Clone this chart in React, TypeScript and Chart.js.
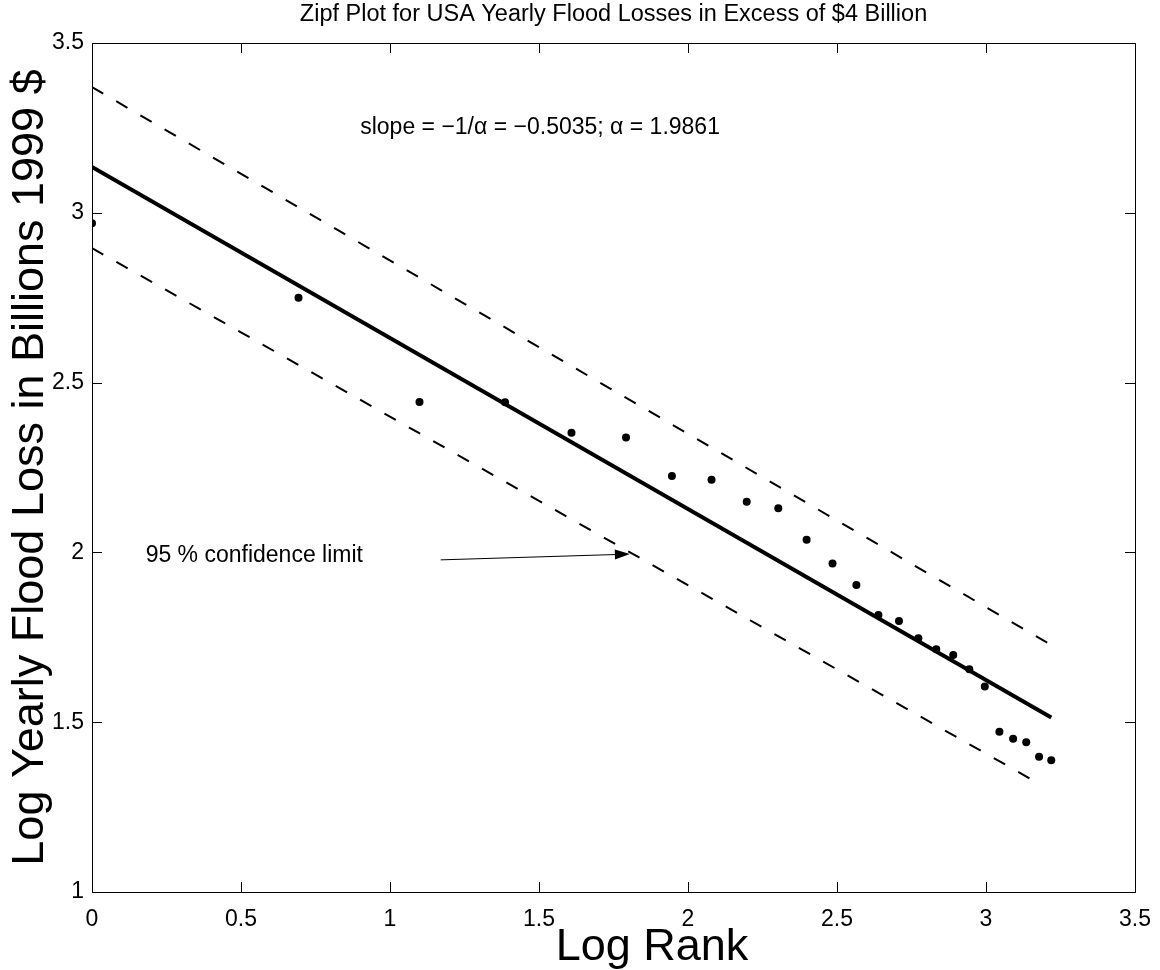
import React, { useEffect, useRef } from "react";
import { Chart, registerables } from "chart.js";

Chart.register(...registerables);

// ---- data ----
const logRank = [0, 0.693, 1.099, 1.386, 1.609, 1.792, 1.946, 2.079, 2.197, 2.303, 2.398, 2.485, 2.565, 2.639, 2.708, 2.773, 2.833, 2.89, 2.944, 2.996, 3.045, 3.091, 3.135, 3.178, 3.219];
const logLoss = [2.969, 2.75, 2.443, 2.442, 2.352, 2.338, 2.225, 2.214, 2.149, 2.13, 2.037, 1.967, 1.904, 1.816, 1.798, 1.747, 1.715, 1.698, 1.656, 1.605, 1.472, 1.451, 1.441, 1.398, 1.388];

const lineX = [0, 3.219];
const fitY = [3.135, 1.514];
const upperY = [3.37, 1.727];
const lowerX = [0, 3.18];
const lowerY = [2.896, 1.318];

const xTickValues = [0, 0.5, 1, 1.5, 2, 2.5, 3, 3.5];
const yTickValues = [1, 1.5, 2, 2.5, 3, 3.5];

const titleText = "Zipf Plot for USA Yearly Flood Losses in Excess of $4 Billion";
const xLabel = "Log Rank";
const yLabel = "Log Yearly Flood Loss in Billions 1999 $";
const slopeText = "slope = \u22121/\u03b1 = \u22120.5035; \u03b1 = 1.9861";
const slopePos = [0.9, 3.25];
const confText = "95 % confidence limit";
const confPos = [0.18, 1.99];
const arrowFrom = [1.17, 1.978];
const arrowTo = [1.805, 1.995];

const FONT = "'Liberation Sans', Arial, Helvetica, sans-serif";

const toPoints = (xs: number[], ys: number[]) => xs.map((x, i) => ({ x, y: ys[i] }));

const decor = {
  id: "decor",
  afterDraw(chart: any) {
    const { ctx, chartArea: a, scales } = chart;
    const xs = scales.x;
    const ys = scales.y;
    ctx.save();
    ctx.strokeStyle = "#000";
    ctx.fillStyle = "#000";
    ctx.lineWidth = 1;
    // box
    ctx.strokeRect(Math.round(a.left) + 0.5, Math.round(a.top) + 0.5, Math.round(a.right - a.left), Math.round(a.bottom - a.top));
    // inward ticks
    const tl = 10;
    ctx.beginPath();
    xTickValues.forEach((v) => {
      const px = Math.round(xs.getPixelForValue(v)) + 0.5;
      ctx.moveTo(px, a.bottom);
      ctx.lineTo(px, a.bottom - tl);
      ctx.moveTo(px, a.top);
      ctx.lineTo(px, a.top + tl);
    });
    yTickValues.forEach((v) => {
      const py = Math.round(ys.getPixelForValue(v)) + 0.5;
      ctx.moveTo(a.left, py);
      ctx.lineTo(a.left + tl, py);
      ctx.moveTo(a.right, py);
      ctx.lineTo(a.right - tl, py);
    });
    ctx.stroke();

    // title
    ctx.font = `23.5px ${FONT}`;
    ctx.textAlign = "center";
    ctx.textBaseline = "middle";
    ctx.fillText(titleText, (a.left + a.right) / 2, 15);

    // axis labels
    ctx.font = `45px ${FONT}`;
    ctx.textBaseline = "alphabetic";
    ctx.fillText(xLabel, 652, 960);
    ctx.save();
    ctx.translate(43, (a.top + a.bottom) / 2);
    ctx.rotate(-Math.PI / 2);
    ctx.fillText(yLabel, 0, 0);
    ctx.restore();

    // annotations
    ctx.font = `23px ${FONT}`;
    ctx.textAlign = "left";
    ctx.textBaseline = "middle";
    ctx.fillText(slopeText, xs.getPixelForValue(slopePos[0]), ys.getPixelForValue(slopePos[1]));
    ctx.fillText(confText, xs.getPixelForValue(confPos[0]), ys.getPixelForValue(confPos[1]));

    // arrow
    const x0 = xs.getPixelForValue(arrowFrom[0]);
    const y0 = ys.getPixelForValue(arrowFrom[1]);
    const x1 = xs.getPixelForValue(arrowTo[0]);
    const y1 = ys.getPixelForValue(arrowTo[1]);
    const ang = Math.atan2(y1 - y0, x1 - x0);
    const hl = 15, hw = 5;
    ctx.beginPath();
    ctx.moveTo(x0, y0);
    ctx.lineTo(x1 - hl * Math.cos(ang), y1 - hl * Math.sin(ang));
    ctx.stroke();
    ctx.beginPath();
    ctx.moveTo(x1, y1);
    ctx.lineTo(x1 - hl * Math.cos(ang) + hw * Math.sin(ang), y1 - hl * Math.sin(ang) - hw * Math.cos(ang));
    ctx.lineTo(x1 - hl * Math.cos(ang) - hw * Math.sin(ang), y1 - hl * Math.sin(ang) + hw * Math.cos(ang));
    ctx.closePath();
    ctx.fill();
    ctx.restore();
  },
};

export default function App() {
  const ref = useRef<HTMLCanvasElement | null>(null);
  useEffect(() => {
    document.body.style.margin = "0";
    document.body.style.overflow = "hidden";
    const canvas = ref.current!;
    const chart = new Chart(canvas, {
      type: "scatter",
      data: {
        datasets: [
          {
            label: "upper",
            type: "line",
            data: toPoints(lineX, upperY),
            borderColor: "#000",
            borderWidth: 2,
            borderDash: [13, 15],
            pointRadius: 0,
            fill: false,
          },
          {
            label: "fit",
            type: "line",
            data: toPoints(lineX, fitY),
            borderColor: "#000",
            borderWidth: 4,
            pointRadius: 0,
            fill: false,
          },
          {
            label: "lower",
            type: "line",
            data: toPoints(lowerX, lowerY),
            borderColor: "#000",
            borderWidth: 2,
            borderDash: [13, 15],
            pointRadius: 0,
            fill: false,
          },
          {
            label: "data",
            data: toPoints(logRank, logLoss),
            backgroundColor: "#000",
            borderWidth: 0,
            pointRadius: 4,
          },
        ],
      },
      options: {
        animation: false,
        responsive: false,
        devicePixelRatio: 1,
        layout: { padding: { top: 43, right: 25, bottom: 0, left: 0 } },
        plugins: { legend: { display: false }, tooltip: { enabled: false }, title: { display: false } },
        scales: {
          x: {
            type: "linear",
            min: 0,
            max: 3.5,
            afterBuildTicks: (s: any) => {
              s.ticks = xTickValues.map((v) => ({ value: v }));
            },
            afterFit: (s: any) => {
              s.height = 78;
              s.paddingLeft = 0;
              s.paddingRight = 0;
            },
            grid: { display: false, drawTicks: false },
            border: { display: false },
            ticks: {
              padding: 14,
              color: "#000",
              font: { family: FONT, size: 23 },
              maxRotation: 0,
              callback: (v: any) => String(v),
            },
          },
          y: {
            type: "linear",
            min: 1,
            max: 3.5,
            afterBuildTicks: (s: any) => {
              s.ticks = yTickValues.map((v) => ({ value: v }));
            },
            afterFit: (s: any) => {
              s.width = 92;
              s.paddingTop = 0;
              s.paddingBottom = 0;
            },
            grid: { display: false, drawTicks: false },
            border: { display: false },
            ticks: {
              padding: 8,
              color: "#000",
              font: { family: FONT, size: 23 },
              callback: (v: any) => String(v),
            },
          },
        },
      },
      plugins: [decor],
    });
    return () => chart.destroy();
  }, []);
  return (
    <div style={{ width: 1160, height: 970, background: "#fff" }}>
      <canvas ref={ref} width={1160} height={970} style={{ display: "block" }} />
    </div>
  );
}
